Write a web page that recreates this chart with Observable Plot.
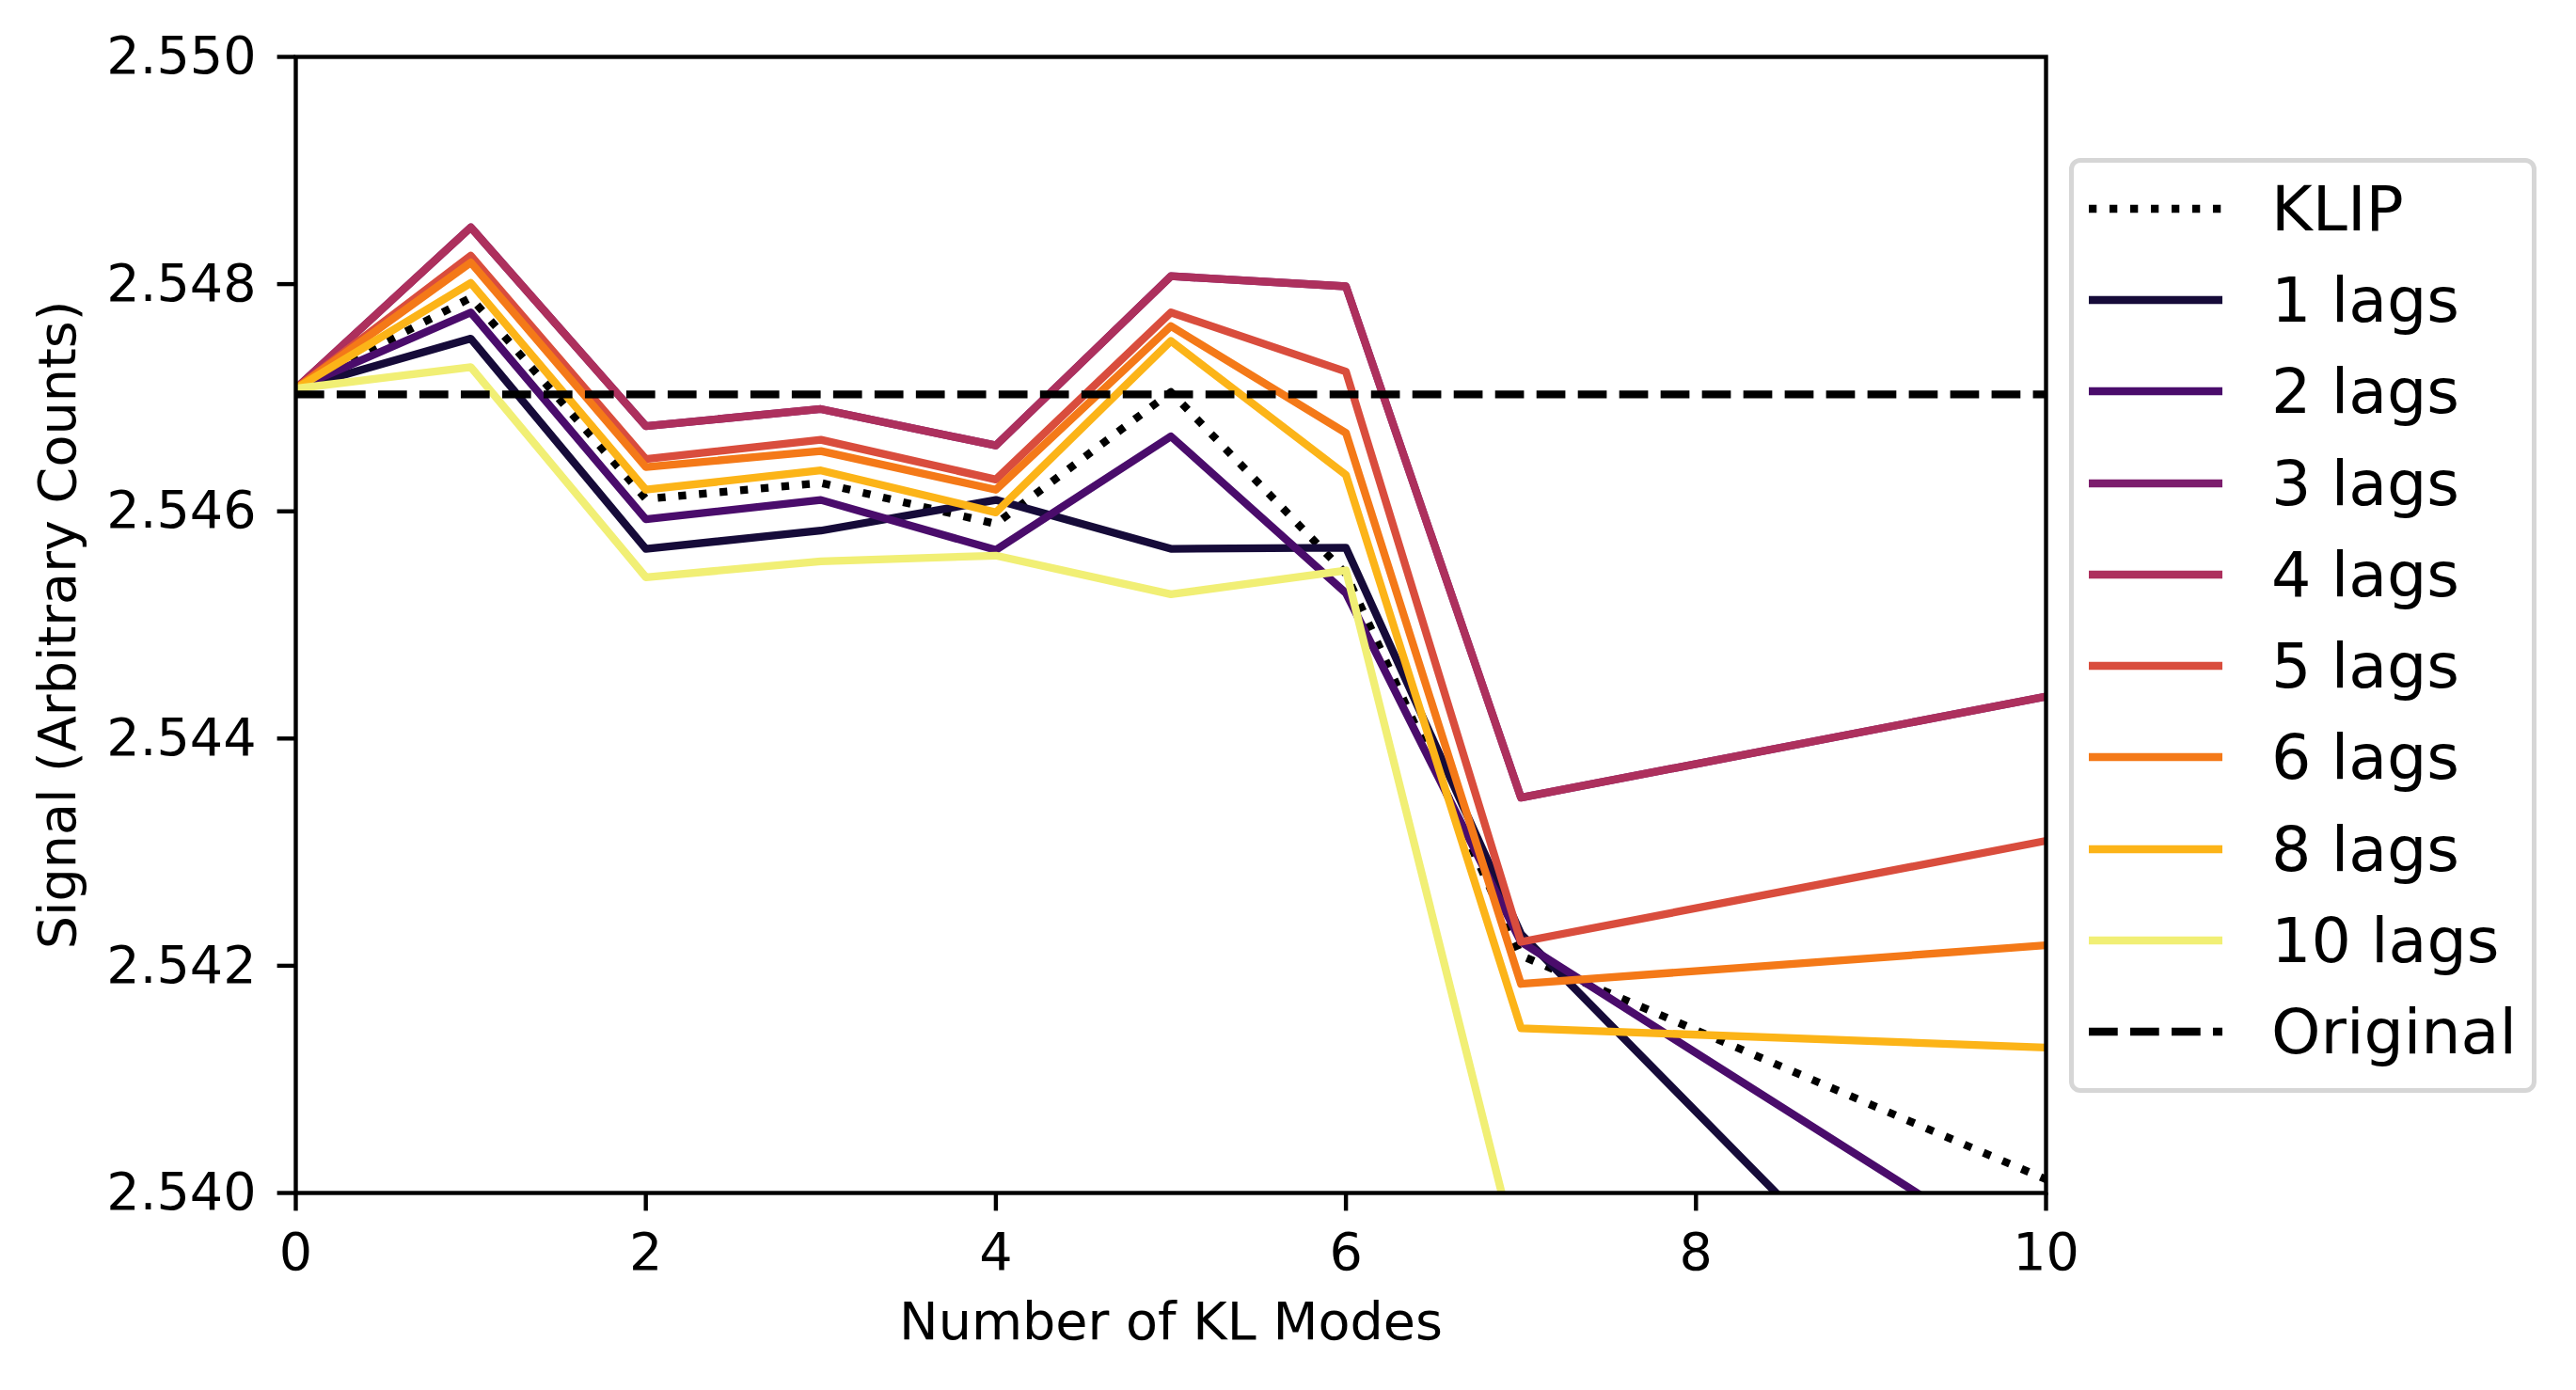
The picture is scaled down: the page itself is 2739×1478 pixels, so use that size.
<!DOCTYPE html>
<html>
<head>
<meta charset="utf-8">
<script src="https://cdn.jsdelivr.net/npm/d3@7"></script>
<script src="https://cdn.jsdelivr.net/npm/@observablehq/plot@0.6"></script>
<style>
  html, body { margin: 0; padding: 0; background: white; }
  #wrap { position: relative; width: 2739px; height: 1478px; overflow: hidden; font-family: "DejaVu Sans", sans-serif; }
  #legend { position: absolute; left: 2200px; top: 168px; width: 497px; height: 994px; box-sizing: border-box;
            border: 5px solid #d6d6d6; border-radius: 12px; background: white; }
  .row { height: 97.3px; display: flex; align-items: center; padding-left: 16px; }
  .row svg { flex: none; }
  .row span { margin-left: 52px; font-size: 66.7px; color: black; white-space: nowrap; }
</style>
</head>
<body>
<div id="wrap"></div>
<script>
// ---- data ----
const klModes = [0, 1, 2, 3, 4, 5, 6, 7, 10];
const klip   = [2.54708, 2.54788, 2.54611, 2.54625, 2.54589, 2.54705, 2.54545, 2.54209, 2.54012];
const lags1  = [2.54708, 2.54752, 2.54567, 2.54583, 2.54610, 2.54567, 2.54568, 2.54228, 2.53759];
const lags2  = [2.54708, 2.54775, 2.54593, 2.54610, 2.54566, 2.54666, 2.54528, 2.54221, 2.53928];
const lags3  = [2.54708, 2.54850, 2.54675, 2.54690, 2.54658, 2.54807, 2.54798, 2.54348, 2.54437];
const lags4  = [2.54708, 2.54850, 2.54675, 2.54690, 2.54658, 2.54807, 2.54798, 2.54348, 2.54437];
const lags5  = [2.54708, 2.54825, 2.54646, 2.54663, 2.54628, 2.54775, 2.54723, 2.54221, 2.54310];
const lags6  = [2.54708, 2.54819, 2.54639, 2.54653, 2.54619, 2.54763, 2.54669, 2.54184, 2.54218];
const lags8  = [2.54708, 2.54801, 2.54619, 2.54636, 2.54599, 2.54750, 2.54632, 2.54145, 2.54128];
const lags10 = [2.54708, 2.54727, 2.54542, 2.54556, 2.54561, 2.54527, 2.54548, 2.53932, 2.53800];
const original = 2.54703;

const lagNames  = ["1 lags", "2 lags", "3 lags", "4 lags", "5 lags", "6 lags", "8 lags", "10 lags"];
const lagSeries = [lags1, lags2, lags3, lags4, lags5, lags6, lags8, lags10];
const lagColors = [0.1, 0.221, 0.343, 0.464, 0.586, 0.707, 0.829, 0.95].map(t => d3.interpolateInferno(t));

const xTicks = [0, 2, 4, 6, 8, 10];
const yTicks = [2.540, 2.542, 2.544, 2.546, 2.548, 2.550];

// ---- build tidy tables ----
const toRows = (name, vals) => vals.map((v, i) => ({series: name, k: klModes[i], v}));
const klipRows = toRows("KLIP", klip);

const LW = 8.3;
const marks = [];
marks.push(Plot.line(klipRows, {x: "k", y: "v", stroke: "black", strokeWidth: LW,
  strokeDasharray: `${LW},${1.65 * LW}`, strokeLinecap: "butt", strokeLinejoin: "round", clip: true}));
lagSeries.forEach((vals, i) => {
  marks.push(Plot.line(toRows(lagNames[i], vals), {x: "k", y: "v", stroke: lagColors[i], strokeWidth: LW,
    strokeLinecap: "square", strokeLinejoin: "round", clip: true}));
});
marks.push(Plot.ruleY([original], {stroke: "black", strokeWidth: LW,
  strokeDasharray: `${3.7 * LW},${1.6 * LW}`, strokeLinecap: "butt"}));
marks.push(Plot.frame({stroke: "black", strokeWidth: 4.4}));
marks.push(Plot.axisX({ticks: xTicks, tickSize: 19.4, tickPadding: 23, strokeWidth: 4.4, stroke: "black",
  tickFormat: d => String(d), label: "Number of KL Modes", labelArrow: "none", labelAnchor: "center", labelOffset: 155}));
marks.push(Plot.axisY({ticks: yTicks, tickSize: 19.4, tickPadding: 22.6, strokeWidth: 4.4, stroke: "black",
  tickFormat: d3.format(".3f"), label: "Signal (Arbitrary Counts)", labelArrow: "none", labelAnchor: "center", labelOffset: 274}));

const chart = Plot.plot({
  width: 2739,
  height: 1478,
  marginLeft: 314,
  marginRight: 564,
  marginTop: 60,
  marginBottom: 210,
  x: {domain: [0, 10]},
  y: {domain: [2.540, 2.550]},
  style: {fontFamily: "DejaVu Sans", fontSize: "55.6px", color: "black", background: "white"},
  marks
});
const wrap = document.getElementById("wrap");
wrap.appendChild(chart);

// ---- legend (HTML) ----
const legend = document.createElement("div");
legend.id = "legend";
const entries = [{name: "KLIP", color: "black", dash: `${LW},${1.65 * LW}`, cap: "butt"}]
  .concat(lagNames.map((n, i) => ({name: n, color: lagColors[i], dash: null, cap: "butt"})))
  .concat([{name: "Original", color: "black", dash: `${3.7 * LW},${1.6 * LW}`, cap: "butt"}]);
for (const e of entries) {
  const row = document.createElement("div");
  row.className = "row";
  const svg = d3.create("svg").attr("width", 142).attr("height", 20);
  svg.append("line").attr("x1", 0).attr("x2", 142).attr("y1", 10).attr("y2", 10)
    .attr("stroke", e.color).attr("stroke-width", LW).attr("stroke-linecap", e.cap)
    .attr("stroke-dasharray", e.dash);
  row.appendChild(svg.node());
  const span = document.createElement("span");
  span.textContent = e.name;
  row.appendChild(span);
  legend.appendChild(row);
}
wrap.appendChild(legend);
</script>
</body>
</html>
